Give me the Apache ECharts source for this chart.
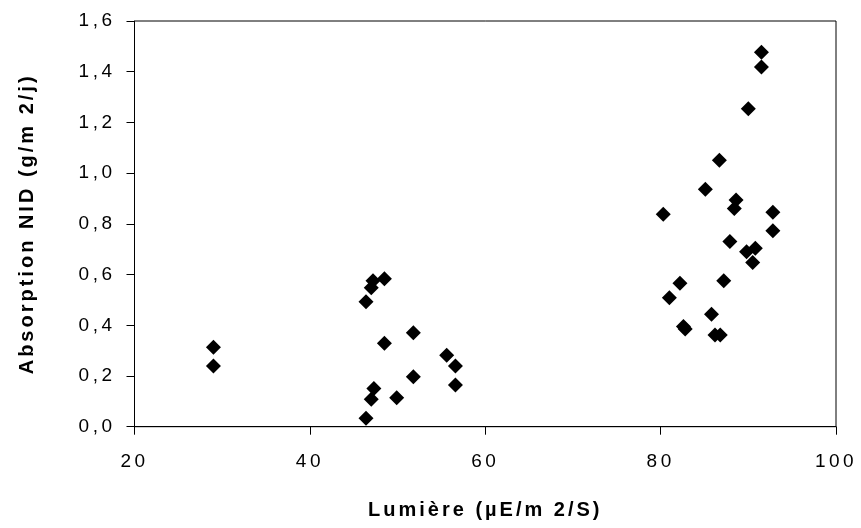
<!DOCTYPE html>
<html>
<head>
<meta charset="utf-8">
<script src="https://cdn.jsdelivr.net/npm/echarts@6/dist/echarts.min.js"></script>
<style>html,body{margin:0;padding:0;background:#fff}#c{width:861px;height:528px}</style>
</head>
<body>
<div id="c"></div>
<script>
const lumiere = [29.0, 29.0, 47.2, 48.5, 47.0, 46.4, 51.8, 48.5, 55.6, 56.6, 51.8, 56.6, 47.3, 47.0, 49.9, 46.4,
  91.5, 91.5, 90.0, 86.7, 85.1, 80.3, 88.6, 88.4, 92.8, 92.8, 87.9, 90.8, 89.8, 90.5, 87.2, 82.2, 81.0, 85.8, 82.6, 82.8, 86.2, 86.8];
const absorption = [0.313, 0.239, 0.576, 0.583, 0.548, 0.493, 0.371, 0.329, 0.282, 0.239, 0.197, 0.164, 0.151, 0.108, 0.114, 0.033,
  1.477, 1.419, 1.254, 1.051, 0.936, 0.838, 0.894, 0.861, 0.846, 0.773, 0.730, 0.704, 0.690, 0.648, 0.576, 0.566, 0.509, 0.443, 0.395, 0.385, 0.362, 0.362];
const xTicks = [20, 40, 60, 80, 100];
const yTicks = [0, 0.2, 0.4, 0.6, 0.8, 1.0, 1.2, 1.4, 1.6];

// Spaced lettering, as in the original rendering
(function () {
  const proto = CanvasRenderingContext2D.prototype;
  const orig = proto.fillText;
  proto.fillText = function () {
    if ('letterSpacing' in this) {
      this.letterSpacing = /bold/.test(this.font) ? '3px' : '3.5px';
    }
    return orig.apply(this, arguments);
  };
})();

const points = lumiere.map((x, i) => [x, absorption[i]]);
const chart = echarts.init(document.getElementById('c'), null, {renderer: 'canvas'});
const font = '"Liberation Sans", Arial, sans-serif';
chart.setOption({
  animation: false,
  backgroundColor: '#fff',
  grid: {left: 134.5, right: 25, top: 21, bottom: 101.3, show: true, borderColor: '#000', borderWidth: 1},
  xAxis: {
    type: 'value', min: xTicks[0], max: xTicks[xTicks.length - 1], interval: 20,
    name: 'Lumière (µE/m 2/S)', nameLocation: 'middle', nameGap: 74,
    nameTextStyle: {fontFamily: font, fontWeight: 'bold', fontSize: 20, color: '#000'},
    axisLine: {lineStyle: {color: '#000', width: 1}},
    axisTick: {show: true, length: 8, inside: false, lineStyle: {color: '#000'}},
    axisLabel: {fontFamily: font, fontSize: 19, color: '#000', margin: 26},
    splitLine: {show: false}
  },
  yAxis: {
    type: 'value', min: yTicks[0], max: yTicks[yTicks.length - 1], interval: 0.2,
    name: 'Absorption NID (g/m 2/j)', nameLocation: 'middle', nameGap: 97,
    nameTextStyle: {fontFamily: font, fontWeight: 'bold', fontSize: 20, color: '#000'},
    axisLine: {show: true, lineStyle: {color: '#000', width: 1}},
    axisTick: {show: true, length: 8, inside: false, lineStyle: {color: '#000'}},
    axisLabel: {fontFamily: font, fontSize: 19, color: '#000', margin: 19,
      formatter: v => v.toFixed(1).replace('.', ',')},
    splitLine: {show: false}
  },
  series: [{
    type: 'scatter',
    data: points,
    symbol: 'diamond',
    symbolSize: 15,
    itemStyle: {color: '#000', opacity: 1}
  }]
});
</script>
</body>
</html>
